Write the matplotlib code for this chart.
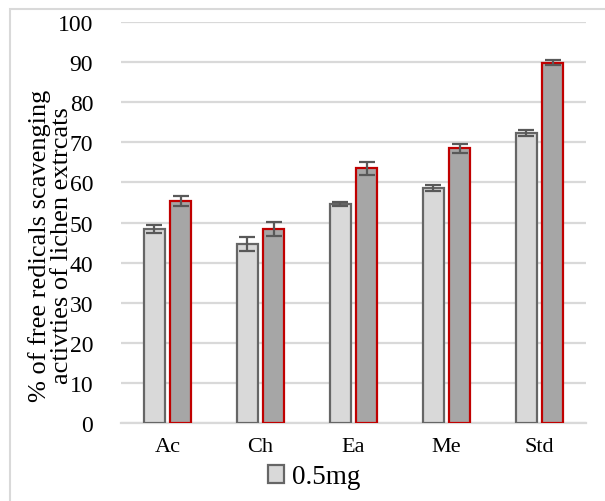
import matplotlib
matplotlib.use("Agg")
import matplotlib.pyplot as plt
from matplotlib.patches import Rectangle, Patch
import numpy as np

plt.rcParams['font.family'] = ['Liberation Serif', 'DejaVu Serif']

categories = ["Ac", "Ch", "Ea", "Me", "Std"]
s1_name = "0.5mg"
s1_values = [48.4, 44.6, 54.6, 58.6, 72.3]
s1_err = [1.1, 1.7, 0.6, 0.8, 0.8]
s2_name = "1mg"
s2_values = [55.3, 48.4, 63.5, 68.5, 89.9]
s2_err = [1.2, 1.8, 1.6, 1.1, 0.6]
yticks = [0, 10, 20, 30, 40, 50, 60, 70, 80, 90, 100]
ylabel = "% of free redicals scavenging\nactivties of lichen extrcats"

W, H = 605, 502
fig = plt.figure(figsize=(W / 100, H / 100), dpi=100)
ax = fig.add_axes([121 / W, 1 - 424 / H, (586 - 121) / W, (424 - 23) / H])

x = np.arange(len(categories))
bw = 0.231
off = 0.1425
grid_c = "#d9d9d9"

ax.bar(x - off, s1_values, bw, color="#d9d9d9", edgecolor="#666666", linewidth=1.6,
       yerr=s1_err, error_kw=dict(ecolor="#595959", elinewidth=1.6, capsize=6, capthick=1.6),
       zorder=3, label=s1_name)
ax.bar(x + off, s2_values, bw, color="#a6a6a6", edgecolor="#c00000", linewidth=1.6,
       yerr=s2_err, error_kw=dict(ecolor="#595959", elinewidth=1.6, capsize=6, capthick=1.6),
       zorder=3, label=s2_name)

ax.set_xlim(-0.5, len(categories) - 0.5)
ax.set_ylim(0, 100)
ax.set_yticks(yticks)
ax.set_xticks(x)
ax.set_xticklabels(categories, fontsize=16)
ax.tick_params(axis='y', length=0, pad=20, labelsize=17)
ax.tick_params(axis='x', length=0, pad=10)
ax.yaxis.grid(True, color=grid_c, linewidth=1.6, zorder=0)
ax.set_axisbelow(True)
for s in ["top", "right", "left"]:
    ax.spines[s].set_visible(False)
ax.spines["bottom"].set_color(grid_c)
ax.spines["bottom"].set_linewidth(1.6)

fig.text(51 / W, 1 - 246 / H, ylabel, rotation=90, ha="center", va="center",
         multialignment="center", fontsize=19, linespacing=1.0)

handle = Patch(facecolor="#d9d9d9", edgecolor="#666666", linewidth=1.6)
fig.legend([handle], [s1_name], loc="center", bbox_to_anchor=(314 / W, 1 - 478 / H),
           frameon=False, fontsize=19.5, handlelength=0.6, handleheight=0.6,
           handletextpad=0.3, borderaxespad=0)

fig.add_artist(Rectangle((10 / W, -0.1), 1.2, 1.1 - 10 / H, transform=fig.transFigure,
                         fill=False, edgecolor=grid_c, linewidth=1.5, clip_on=False))

fig.savefig("out.png", dpi=100)
